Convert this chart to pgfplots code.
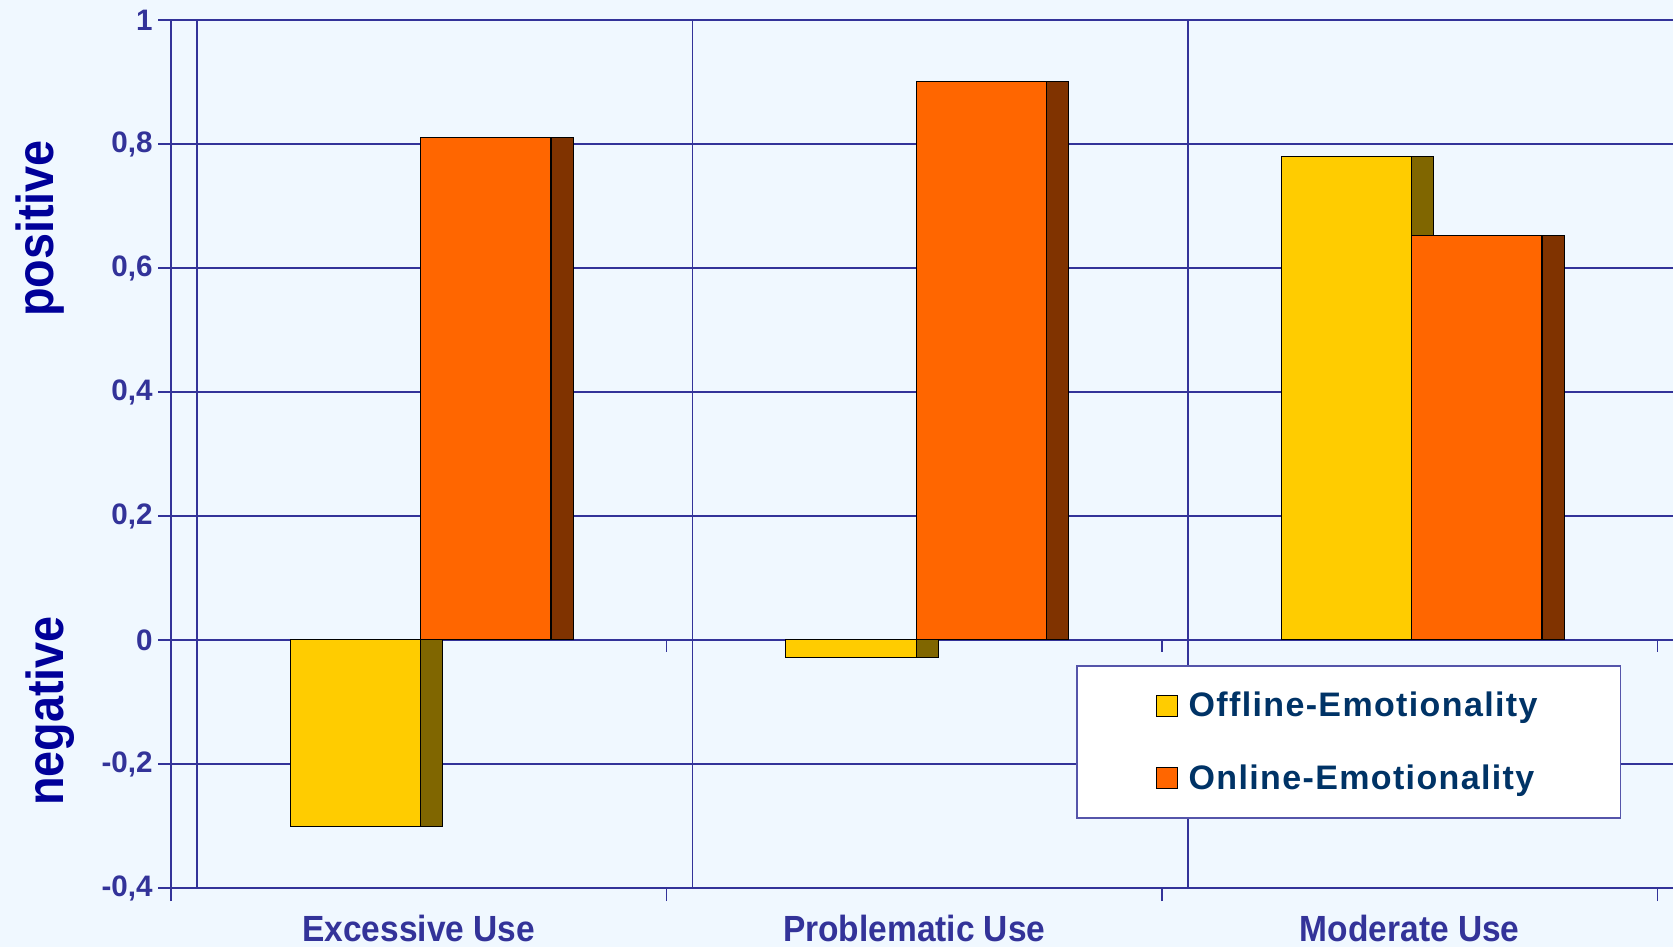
\documentclass[border=0pt]{standalone}
\usepackage{fontspec}
\setmainfont{Liberation Sans}
\newfontfamily\ylabfont{Liberation Sans}[FakeStretch=0.9]
\newfontfamily\catfont{Liberation Sans}[FakeStretch=0.92]
\newfontfamily\legfont{Liberation Sans}[LetterSpace=4]
\usepackage{pgfplots}
\usepackage{pgfplotstable}
\pgfplotsset{compat=1.18}

\definecolor{bgc}{HTML}{F0F8FF}
\definecolor{gridc}{HTML}{333399}
\definecolor{ylabc}{HTML}{000099}
\definecolor{legtext}{HTML}{003366}
\definecolor{legborder}{HTML}{5555AA}
\definecolor{yel}{HTML}{FFCC00}
\definecolor{yelside}{HTML}{806600}
\definecolor{ora}{HTML}{FF6600}
\definecolor{oraside}{HTML}{803300}

% category, offline, online
\pgfplotstableread{
x off on
0 -0.30 0.81
1 -0.028 0.90
2 0.78 0.652
}\emotable

\begin{document}
\begin{tikzpicture}
\path[use as bounding box, fill=bgc] (0,0) rectangle (836.5pt,473.5pt);
\clip (0,0) rectangle (836.5pt,473.5pt);
\begin{axis}[
    at={(85.5pt,29.5pt)}, anchor=south west,
    scale only axis, width=768pt, height=434pt,
    xmin=-0.5, xmax=2.6, ymin=-0.4, ymax=1,
    axis lines*=left,
    axis line style={gridc, line width=1pt},
    tick align=outside,
    major tick length=6.5pt,
    every tick/.style={gridc, line width=0.7pt},
    ytick={-0.4,-0.2,0,0.2,0.4,0.6,0.8,1},
    yticklabels={{-0,4},{-0,2},0,{0,2},{0,4},{0,6},{0,8},1},
    yticklabel style={font=\bfseries\fontsize{14.8}{16}\selectfont, text=gridc, inner xsep=2.5pt},
    ymajorgrids,
    major grid style={gridc, line width=0.7pt},
    xtick={-0.5,0.5,1.5,2.5},
    xticklabels={},
    minor xtick={-0.4475,0.5525,1.5525},
    xminorgrids,
    minor tick length=0pt,
    minor grid style={gridc, line width=0.7pt},
    extra x ticks={0,1,2},
    extra x tick labels={Excessive Use,Problematic Use,Moderate Use},
    extra x tick style={major tick length=0pt, grid=none,
        xticklabel style={anchor=base, yshift=-26.5pt,
            font=\catfont\bfseries\fontsize{18.2}{20}\selectfont, text=gridc}},
    extra y ticks={0},
    extra y tick labels={},
    extra y tick style={major tick length=0pt, grid style={gridc, line width=1pt}},
    legend style={at={(0.5892,0.2569)}, anchor=north west,
        draw=legborder, line width=0.8pt, fill=white,
        inner xsep=39.5pt, inner ysep=11pt, row sep=18.5pt, column sep=3.3pt,
        font=\legfont\bfseries\fontsize{17}{20}\selectfont, text=legtext},
    legend cell align=left,
]
% side faces are drawn first so the front faces overlap them
\addplot[ybar, bar width=0.045, bar shift=0.0261, fill=yelside, draw=black, line width=0.5pt, forget plot]
    table[x=x, y=off] {\emotable};
\addplot[ybar, bar width=0.2632, bar shift=-0.128, fill=yel, draw=black, line width=0.5pt,
    legend image code/.code={\draw[fill=yel, draw=black, line width=0.6pt] (0pt,-5.25pt) rectangle (10.5pt,5.25pt);}]
    table[x=x, y=off] {\emotable};
\addlegendentry{Offline-Emotionality}
\addplot[ybar, bar width=0.045, bar shift=0.2895, fill=oraside, draw=black, line width=0.5pt, forget plot]
    table[x=x, y=on] {\emotable};
\addplot[ybar, bar width=0.2632, bar shift=0.1353, fill=ora, draw=black, line width=0.5pt,
    legend image code/.code={\draw[fill=ora, draw=black, line width=0.6pt] (0pt,-5.25pt) rectangle (10.5pt,5.25pt);}]
    table[x=x, y=on] {\emotable};
\addlegendentry{Online-Emotionality}
\pgfplotsinvokeforeach{0.5,1.5,2.5}{
    \draw[gridc, line width=0.7pt] (axis cs:#1,0) -- ++(0pt,-6pt);
}
\end{axis}
\node[rotate=90, anchor=base, text=ylabc, font=\ylabfont\bfseries\fontsize{26}{28}\selectfont] at (26.5pt,359.25pt) {positive};
\node[rotate=90, anchor=base, text=ylabc, font=\ylabfont\bfseries\fontsize{26}{28}\selectfont] at (31.5pt,118pt) {negative};
\end{tikzpicture}
\end{document}
